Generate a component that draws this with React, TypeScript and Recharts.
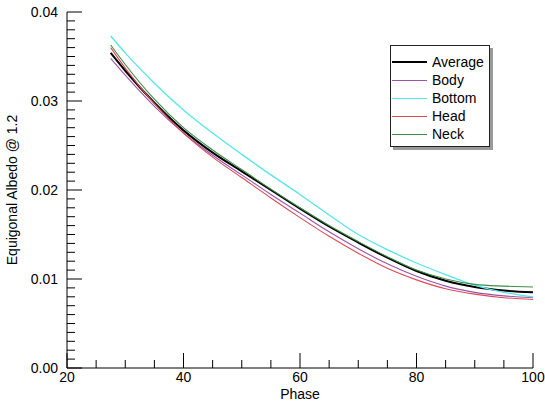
import React from 'react';
import { LineChart, Line, XAxis, YAxis, Legend } from 'recharts';

const phases = [27.5, 30, 35, 40, 45, 50, 55, 60, 65, 70, 75, 80, 85, 90, 95, 100];
const average = [0.0354, 0.0334, 0.0298, 0.0267, 0.0242, 0.0221, 0.0200, 0.0179, 0.0159, 0.0141, 0.0124, 0.0109, 0.0098, 0.0091, 0.0087, 0.0085];
const body = [0.0348, 0.0329, 0.0294, 0.0264, 0.0239, 0.0217, 0.0195, 0.0174, 0.0153, 0.0134, 0.0117, 0.0103, 0.0092, 0.0085, 0.0081, 0.0079];
const bottom = [0.0373, 0.0354, 0.0320, 0.0290, 0.0264, 0.0240, 0.0217, 0.0195, 0.0172, 0.0150, 0.0133, 0.0118, 0.0105, 0.0093, 0.0085, 0.0080];
const head = [0.0360, 0.0337, 0.0297, 0.0264, 0.0237, 0.0214, 0.0191, 0.0169, 0.0148, 0.0129, 0.0112, 0.0099, 0.0089, 0.0083, 0.0079, 0.0077];
const neck = [0.0363, 0.0341, 0.0302, 0.0270, 0.0245, 0.0223, 0.0201, 0.0180, 0.0160, 0.0142, 0.0125, 0.0110, 0.0100, 0.0094, 0.0092, 0.0091];

const xTicks = [20, 25, 30, 35, 40, 45, 50, 55, 60, 65, 70, 75, 80, 85, 90, 95, 100];
const yTicks = [
  0, 0.001, 0.002, 0.003, 0.004, 0.005, 0.006, 0.007, 0.008, 0.009,
  0.01, 0.011, 0.012, 0.013, 0.014, 0.015, 0.016, 0.017, 0.018, 0.019,
  0.02, 0.021, 0.022, 0.023, 0.024, 0.025, 0.026, 0.027, 0.028, 0.029,
  0.03, 0.031, 0.032, 0.033, 0.034, 0.035, 0.036, 0.037, 0.038, 0.039, 0.04,
];

const seriesNames = ['Average', 'Body', 'Bottom', 'Head', 'Neck'];
const seriesColors = ['#000000', '#9a55aa', '#55e6e6', '#dc4a55', '#3a8f4a'];
const seriesWidths = [2, 1.1, 1.3, 1.1, 1.1];
const seriesValues = [average, body, bottom, head, neck];

const data = phases.map((p, i) => {
  const row: Record<string, number> = { phase: p };
  seriesNames.forEach((n, k) => {
    row[n] = seriesValues[k][i];
  });
  return row;
});

const FONT = '"Liberation Sans", Arial, Helvetica, sans-serif';
const MAJOR = 15;
const MINOR = 8;

const isMajorX = (v: number) => Math.abs(v % 20) < 1e-9;
const isMajorY = (v: number) => Math.abs(v * 100 - Math.round(v * 100)) < 1e-6;

const XTickBottom = (props: any) => {
  const { x, y, payload } = props;
  const v = payload.value;
  const major = isMajorX(v);
  return (
    <g>
      <line x1={x} y1={y} x2={x} y2={y - (major ? MAJOR : MINOR)} stroke="#000" strokeWidth={1} />
      {major && (
        <text x={x} y={y + 14} textAnchor="middle" fontSize={14} fontFamily={FONT} fill="#000">
          {v}
        </text>
      )}
    </g>
  );
};

const XTickTop = (props: any) => {
  const { x, y, payload } = props;
  const major = isMajorX(payload.value);
  return <line x1={x} y1={y} x2={x} y2={y + (major ? MAJOR : MINOR)} stroke="#000" strokeWidth={1} />;
};

const YTickLeft = (props: any) => {
  const { x, y, payload } = props;
  const v = payload.value;
  const major = isMajorY(v);
  return (
    <g>
      <line x1={x} y1={y} x2={x + (major ? MAJOR : MINOR)} y2={y} stroke="#000" strokeWidth={1} />
      {major && (
        <text x={x - 9} y={y + 5} textAnchor="end" fontSize={14} fontFamily={FONT} fill="#000">
          {v.toFixed(2)}
        </text>
      )}
    </g>
  );
};

const YTickRight = (props: any) => {
  const { x, y, payload } = props;
  const major = isMajorY(payload.value);
  return <line x1={x} y1={y} x2={x - (major ? MAJOR : MINOR)} y2={y} stroke="#000" strokeWidth={1} />;
};

const LegendBox = () => (
  <div
    style={{
      width: 100,
      height: 102,
      boxSizing: 'border-box',
      border: '1px solid #222',
      background: '#fff',
      boxShadow: '3px 3px 0 #9a9a9a',
      paddingTop: 7,
      fontFamily: FONT,
      fontSize: 14,
      color: '#000',
    }}
  >
    {seriesNames.map((n, k) => (
      <div key={n} style={{ height: 18, display: 'flex', alignItems: 'center' }}>
        <div
          style={{
            width: 35,
            marginLeft: 1,
            height: 0,
            borderTop: `${k === 0 ? 2 : 1}px solid ${seriesColors[k]}`,
          }}
        />
        <span style={{ marginLeft: 5, lineHeight: '18px' }}>{n}</span>
      </div>
    ))}
  </div>
);

export default function App() {
  return (
    <div style={{ position: 'absolute', left: 0, top: 0, background: '#fff' }}>
      <LineChart width={545} height={402} data={data} margin={{ top: 12, right: 12, bottom: 0, left: 0 }}>
        <XAxis
          xAxisId="bottom"
          dataKey="phase"
          type="number"
          domain={[20, 100]}
          ticks={xTicks}
          interval={0}
          tickSize={0}
          tickMargin={0}
          tickLine={false}
          tick={<XTickBottom />}
          height={34}
          stroke="#000"
          allowDataOverflow
          label={{
            content: () => (
              <text x={300} y={399} textAnchor="middle" fontSize={14} fontFamily={FONT} fill="#000">
                Phase
              </text>
            ),
          }}
        />
        <XAxis
          xAxisId="top"
          orientation="top"
          dataKey="phase"
          type="number"
          domain={[20, 100]}
          ticks={xTicks}
          interval={0}
          tickSize={0}
          tickMargin={0}
          tickLine={false}
          tick={<XTickTop />}
          height={0}
          stroke="#000"
          allowDataOverflow
        />
        <YAxis
          yAxisId="left"
          type="number"
          domain={[0, 0.04]}
          ticks={yTicks}
          interval={0}
          tickSize={0}
          tickMargin={0}
          tickLine={false}
          tick={<YTickLeft />}
          width={67}
          stroke="#000"
          allowDataOverflow
          label={{
            content: () => (
              <text
                x={17}
                y={190}
                transform="rotate(-90 17 190)"
                textAnchor="middle"
                fontSize={14}
                fontFamily={FONT}
                fill="#000"
              >
                Equigonal Albedo @ 1.2
              </text>
            ),
          }}
        />
        <YAxis
          yAxisId="right"
          orientation="right"
          type="number"
          domain={[0, 0.04]}
          ticks={yTicks}
          interval={0}
          tickSize={0}
          tickMargin={0}
          tickLine={false}
          tick={<YTickRight />}
          width={0}
          stroke="#000"
          allowDataOverflow
        />
        <Legend
          content={<LegendBox />}
          wrapperStyle={{ position: 'absolute', left: 390, top: 45, width: 0, height: 0, overflow: 'visible' }}
        />
        {seriesNames.map((n, k) => (
          <Line
            key={n}
            xAxisId="bottom"
            yAxisId="left"
            type="monotone"
            dataKey={n}
            stroke={seriesColors[k]}
            strokeWidth={seriesWidths[k]}
            dot={false}
            isAnimationActive={false}
          />
        ))}
      </LineChart>
    </div>
  );
}
